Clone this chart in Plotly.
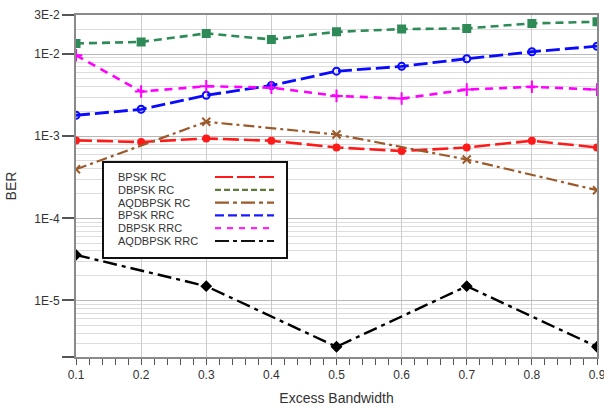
import plotly.graph_objects as go

# ---------------- data ----------------
x_full = [0.1, 0.2, 0.3, 0.4, 0.5, 0.6, 0.7, 0.8, 0.9]
x_odd = [0.1, 0.3, 0.5, 0.7, 0.9]

bpsk_rc = [8.9e-4, 8.5e-4, 9.4e-4, 8.8e-4, 7.3e-4, 6.6e-4, 7.3e-4, 8.8e-4, 7.3e-4]
dbpsk_rc = [1.35e-2, 1.41e-2, 1.79e-2, 1.51e-2, 1.87e-2, 2.02e-2, 2.06e-2, 2.37e-2, 2.48e-2]
aqdbpsk_rc = [3.95e-4, 1.5e-3, 1.05e-3, 5.2e-4, 2.2e-4]
bpsk_rrc = [1.8e-3, 2.13e-3, 3.16e-3, 4.15e-3, 6.2e-3, 7.1e-3, 8.8e-3, 1.07e-2, 1.25e-2]
dbpsk_rrc = [9.7e-3, 3.5e-3, 4.07e-3, 3.9e-3, 3.1e-3, 2.88e-3, 3.7e-3, 4.0e-3, 3.7e-3]
aqdbpsk_rrc = [3.58e-5, 1.49e-5, 2.72e-6, 1.49e-5, 2.72e-6]

series_names = ["BPSK RC", "DBPSK RC", "AQDBPSK RC", "BPSK RRC", "DBPSK RRC", "AQDBPSK RRC"]

x_ticks = [0.1, 0.2, 0.3, 0.4, 0.5, 0.6, 0.7, 0.8, 0.9]
x_ticktext = ["0.1", "0.2", "0.3", "0.4", "0.5", "0.6", "0.7", "0.8", "0.9"]
y_ticks = [3e-2, 1e-2, 1e-3, 1e-4, 1e-5]
y_ticktext = ["3E-2", "1E-2", "1E-3", "1E-4", "1E-5"]

# ---------------- styles ----------------
FONT = "Liberation Sans, Arial, sans-serif"
styles = [
    dict(color="#ff1a1a", dash="16px,5px", symbol="circle", msize=6, lw=2.6),
    dict(color="#2e8b57", dash="8px,5px", symbol="square", msize=7, lw=2.6),
    dict(color="#9c5a2a", dash="11px,4px,3px,4px", symbol="x-thin-open", msize=8, lw=2.2),
    dict(color="#0a0aff", dash="14px,5px", symbol="circle-open", msize=7, lw=2.8),
    dict(color="#ff00ff", dash="8px,6px", symbol="cross-thin-open", msize=9, lw=2.6),
    dict(color="#000000", dash="14px,5px,4px,5px", symbol="diamond", msize=7, lw=2.4),
]
legend_styles = [
    dict(color="#ff1a1a", dash="18px,4px", width=2.2),
    dict(color="#5f7a3c", dash="6px,3px", width=2.2),
    dict(color="#9c5a2a", dash="14px,4px,4px,4px", width=2.2),
    dict(color="#1a1aff", dash="9px,4px", width=2.2),
    dict(color="#ff22ff", dash="6px,6px", width=2.2),
    dict(color="#111111", dash="14px,4px,4px,4px", width=2.2),
]

xs = [x_full, x_full, x_odd, x_full, x_full, x_odd]
ys = [bpsk_rc, dbpsk_rc, aqdbpsk_rc, bpsk_rrc, dbpsk_rrc, aqdbpsk_rrc]

fig = go.Figure()
for name, x, y, st in zip(series_names, xs, ys, styles):
    mline = dict(width=2, color=st["color"])
    fig.add_trace(go.Scatter(
        x=x, y=y, name=name, mode="lines+markers",
        line=dict(color=st["color"], width=st["lw"], dash=st["dash"]),
        marker=dict(symbol=st["symbol"], size=st["msize"], color=st["color"], line=mline),
        showlegend=False,
    ))

# ---------------- layout geometry (pixels) ----------------
W, H = 604, 408
L, R, T, B = 76, 7, 15, 51
pw, ph = W - L - R, H - T - B

def px_x(p):
    return (p - L) / pw

def px_y(p):
    return (H - B - p) / ph

shapes = []
annotations = []
# legend box
shapes.append(dict(type="rect", xref="paper", yref="paper",
                   x0=px_x(103), x1=px_x(287), y0=px_y(258), y1=px_y(162),
                   line=dict(color="#111111", width=2), fillcolor="white", layer="above"))
row_y = [177.0, 189.8, 202.6, 215.4, 228.2, 241.0]
for name, ry, ls in zip(series_names, row_y, legend_styles):
    annotations.append(dict(xref="paper", yref="paper", x=px_x(117), y=px_y(ry),
                            xanchor="left", yanchor="middle", showarrow=False,
                            borderpad=0,
                            text=name, font=dict(family=FONT, size=11, color="#333333")))
    shapes.append(dict(type="line", xref="paper", yref="paper",
                       x0=px_x(215), x1=px_x(274), y0=px_y(ry), y1=px_y(ry),
                       line=dict(color=ls["color"], width=ls["width"], dash=ls["dash"]),
                       layer="above"))

y_lo, y_hi = -5.69, -1.523
minor_y = []
for d in range(-6, -1):
    for m in range(2, 10):
        v = m * 10.0 ** d
        if 10 ** y_lo < v < 10 ** y_hi:
            minor_y.append(v)

fig.update_layout(
    width=W, height=H,
    margin=dict(l=L, r=R, t=T, b=B),
    paper_bgcolor="white", plot_bgcolor="white",
    font=dict(family=FONT, size=12, color="#333333"),
    shapes=shapes, annotations=annotations,
    xaxis=dict(
        range=[0.1, 0.9], tickmode="array", tickvals=x_ticks, ticktext=x_ticktext,
        automargin=False, ticklabeloverflow="allow",
        showgrid=True, gridcolor="#cccccc", gridwidth=1.2,
        showline=True, linecolor="#8a8a8a", linewidth=2, mirror=True,
        ticks="outside", ticklen=6, tickwidth=1.3, tickcolor="#555555",
        ticklabelstandoff=0,
        minor=dict(tickmode="linear", tick0=0.1, dtick=0.02, ticks="outside",
                   ticklen=6, tickwidth=1.3, tickcolor="#555555", showgrid=False),
        title=dict(text="Excess Bandwidth", font=dict(family=FONT, size=14, color="#333333"),
                   standoff=12),
        tickfont=dict(family=FONT, size=12, color="#333333"),
        zeroline=False,
    ),
    yaxis=dict(
        type="log", range=[y_lo, y_hi],
        automargin=False, ticklabeloverflow="allow",
        tickmode="array", tickvals=y_ticks + [10 ** y_lo], ticktext=y_ticktext + [""],
        showgrid=True, gridcolor="#b8b8b8", gridwidth=1.2,
        showline=True, linecolor="#8a8a8a", linewidth=2, mirror=True,
        ticks="outside", ticklen=12, tickwidth=1.5, tickcolor="#555555",
        minor=dict(tickmode="array", tickvals=minor_y, showgrid=True,
                   gridcolor="#dddddd", gridwidth=1, ticks=""),
        title=dict(text="BER", font=dict(family=FONT, size=14, color="#333333"), standoff=14),
        tickfont=dict(family=FONT, size=12, color="#333333"),
        zeroline=False,
    ),
)

fig.write_html("out.html")
